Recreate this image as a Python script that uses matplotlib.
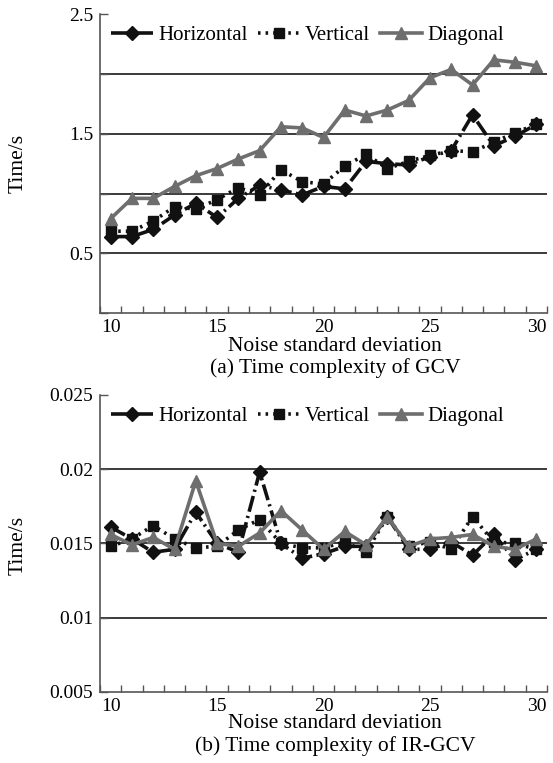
import matplotlib
matplotlib.use("Agg")
import matplotlib.pyplot as plt
from matplotlib.ticker import FixedLocator, NullFormatter

plt.rcParams['font.family'] = ['Liberation Serif', 'DejaVu Serif']

# ---------------- data ----------------
noise = list(range(10, 31))
xtick_labels = [10, 15, 20, 25, 30]

gcv_horizontal = [0.64, 0.64, 0.70, 0.82, 0.92, 0.80, 0.96, 1.07, 1.03, 0.99, 1.06,
                  1.04, 1.27, 1.25, 1.24, 1.31, 1.36, 1.66, 1.40, 1.48, 1.58]
gcv_vertical = [0.685, 0.685, 0.77, 0.89, 0.87, 0.95, 1.05, 0.99, 1.20, 1.10, 1.08,
                1.23, 1.33, 1.21, 1.27, 1.32, 1.36, 1.35, 1.43, 1.51, 1.58]
gcv_diagonal = [0.79, 0.96, 0.96, 1.06, 1.15, 1.21, 1.29, 1.36, 1.56, 1.55, 1.47,
                1.70, 1.65, 1.70, 1.78, 1.97, 2.04, 1.91, 2.12, 2.10, 2.07]

ir_horizontal = [0.0161, 0.0153, 0.0144, 0.0146, 0.0171, 0.0150, 0.0144, 0.0198, 0.0150, 0.0140, 0.0143,
                 0.0148, 0.0148, 0.0168, 0.0146, 0.0146, 0.0151, 0.0142, 0.0156, 0.0139, 0.0146]
ir_vertical = [0.0148, 0.0153, 0.0162, 0.0153, 0.0147, 0.0148, 0.0159, 0.0166, 0.0150, 0.0147, 0.0147,
               0.0151, 0.0144, 0.0168, 0.0148, 0.0151, 0.0146, 0.0168, 0.0151, 0.0150, 0.0146]
ir_diagonal = [0.0156, 0.0149, 0.0154, 0.0146, 0.0192, 0.0150, 0.0148, 0.0157, 0.0172, 0.0159, 0.0146,
               0.0158, 0.0149, 0.0168, 0.0148, 0.0153, 0.0154, 0.0156, 0.0148, 0.0146, 0.0153]

series_names = ["Horizontal", "Vertical", "Diagonal"]

gcv_yticks = [0.5, 1.5, 2.5]
gcv_grid = [0.5, 1.0, 1.5, 2.0]
ir_yticks = [0.005, 0.01, 0.015, 0.02, 0.025]
ir_ytick_labels = ["0.005", "0.01", "0.015", "0.02", "0.025"]
ir_grid = [0.01, 0.015, 0.02]

# ---------------- figure ----------------
W, H = 553, 763
fig = plt.figure(figsize=(W / 100, H / 100), dpi=100)

def px_axes(left, top, right, bottom):
    return fig.add_axes([left / W, 1 - bottom / H, (right - left) / W, (bottom - top) / H])

ax1 = px_axes(100, 14.5, 547, 313)
ax2 = px_axes(100, 394.7, 547, 692)

GRAY = '#6e6e6e'
BLACK = '#111111'
styles = [
    dict(color=BLACK, linestyle=(0, (4.5, 1.2, 0.6, 1.2)), marker='D', markersize=7.5, lw=2.6),
    dict(color=BLACK, linestyle=(0, (0.7, 1.4)), marker='s', markersize=7, lw=2.6),
    dict(color=GRAY, linestyle='-', marker='^', markersize=9, lw=2.6),
]

def style_axes(ax, ylim, grid, yticks, ylabels, minor_y):
    ax.set_xlim(9.5, 30.5)
    ax.set_ylim(*ylim)
    for g in grid:
        ax.axhline(g, color='#3a3a3a', lw=1.4, zorder=1)
    for s in ['top', 'right']:
        ax.spines[s].set_visible(False)
    for s in ['left', 'bottom']:
        ax.spines[s].set_color('#555555')
        ax.spines[s].set_linewidth(1.2)
    ax.xaxis.set_major_locator(FixedLocator(xtick_labels))
    ax.xaxis.set_minor_locator(FixedLocator([v + 0.5 for v in range(9, 31)]))
    ax.xaxis.set_minor_formatter(NullFormatter())
    ax.tick_params(axis='x', which='major', length=0, pad=4, labelsize=14)
    ax.tick_params(axis='x', which='minor', direction='in', length=5, width=1, color='#555555')
    ax.set_yticks(yticks)
    ax.set_yticklabels(ylabels)
    ax.yaxis.set_minor_locator(FixedLocator(minor_y))
    ax.tick_params(axis='y', which='major', direction='in', length=6, width=1, color='#555555',
                   pad=5, labelsize=14)
    ax.tick_params(axis='y', which='minor', direction='in', length=6, width=1, color='#555555')

def draw(ax, data, leg_y):
    handles = []
    for vals, name, st in zip(data, series_names, styles):
        h, = ax.plot(noise, vals, label=name, zorder=3, markeredgecolor=st['color'],
                     markerfacecolor=st['color'], **st)
        handles.append(h)
    ax.legend(handles=handles, loc='center left', bbox_to_anchor=(0.025, leg_y), ncol=3,
              frameon=False, fontsize=15, handlelength=2.0, handletextpad=0.25,
              columnspacing=0.5, borderpad=0, borderaxespad=0, numpoints=1)

style_axes(ax1, (0, 2.5), gcv_grid, gcv_yticks, [str(v) for v in gcv_yticks],
           [0, 1.0, 2.0])
draw(ax1, [gcv_horizontal, gcv_vertical, gcv_diagonal], 0.93)

style_axes(ax2, (0.005, 0.025), ir_grid, ir_yticks, ir_ytick_labels, [])
draw(ax2, [ir_horizontal, ir_vertical, ir_diagonal], 0.926)

def ftext(x, y, s, **kw):
    fig.text(x / W, 1 - y / H, s, ha='center', va='center', **kw)

ftext(335, 346, "Noise standard deviation", fontsize=15.5)
ftext(335, 368, "(a) Time complexity of GCV", fontsize=15.5)
ftext(335, 724, "Noise standard deviation", fontsize=15.5)
ftext(335, 746, "(b) Time complexity of IR-GCV", fontsize=15.5)
ftext(18, 163, "Time/s", fontsize=15.5, rotation=90)
ftext(18, 545, "Time/s", fontsize=15.5, rotation=90)

fig.savefig("out.png", dpi=100)
